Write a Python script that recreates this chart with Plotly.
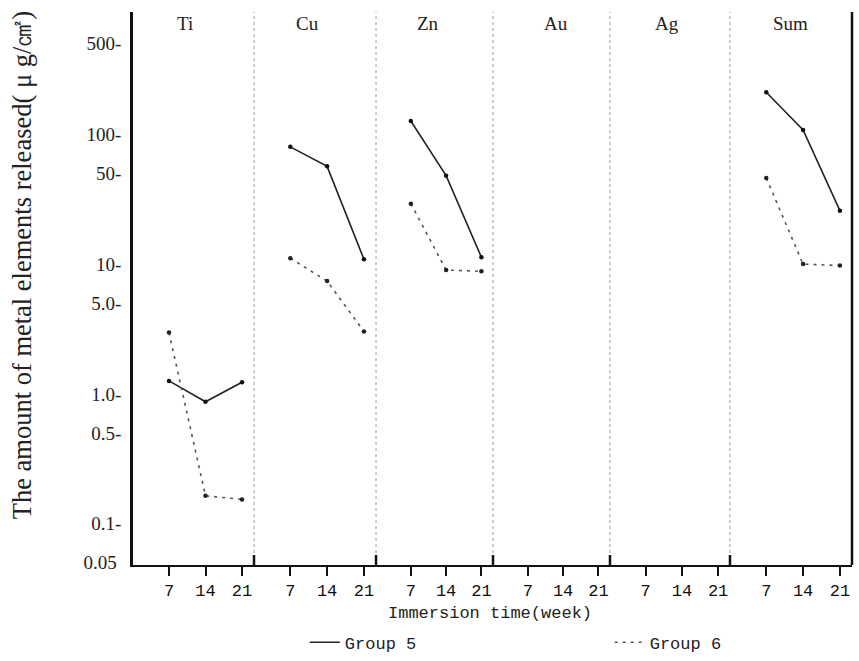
import plotly.graph_objects as go

# ---------------- data ----------------
weeks = [7, 14, 21]
week_labels = ["7", "14", "21"]
panels = ["Ti", "Cu", "Zn", "Au", "Ag", "Sum"]

ti_g5 = [1.26, 0.87, 1.23]
ti_g6 = [2.97, 0.164, 0.154]
cu_g5 = [80.0, 56.6, 10.9]
cu_g6 = [11.1, 7.4, 3.03]
zn_g5 = [126.6, 48.0, 11.3]
zn_g6 = [29.2, 9.0, 8.8]
au_g5 = []
au_g6 = []
ag_g5 = []
ag_g6 = []
sum_g5 = [211.0, 108.0, 25.8]
sum_g6 = [46.0, 10.0, 9.75]

y_tickvals = [0.05, 0.1, 0.5, 1, 5, 10, 50, 100, 500]
y_ticktext = ["0.05\u00a0", "0.1-", "0.5-", "1.0-", "5.0-", "10-", "50-", "100-", "500-"]
y_title = "The amount of metal elements released( \u03bc g/\u33a0)"
x_title = "Immersion time(week)"

series_g5 = [ti_g5, cu_g5, zn_g5, au_g5, ag_g5, sum_g5]
series_g6 = [ti_g6, cu_g6, zn_g6, au_g6, ag_g6, sum_g6]

# ---------------- layout constants ----------------
bounds = [0.0, 0.1683, 0.3380, 0.5007, 0.6634, 0.8303, 1.0]
label_x = [10.0, 10.3, 10.4, 12.6, 11.2, 11.6]
mono = "Liberation Mono"
serif = "Liberation Serif"

fig = go.Figure()

for i, name in enumerate(panels):
    xa = "x" if i == 0 else f"x{i+1}"
    g5 = series_g5[i]
    g6 = series_g6[i]
    if g5:
        fig.add_trace(go.Scatter(x=weeks[:len(g5)], y=g5, xaxis=xa, yaxis="y", mode="lines",
                                 line=dict(color="#222222", width=1.6),
                                 name="Group 5", legend="legend", showlegend=(i == 0)))
        fig.add_trace(go.Scatter(x=weeks[:len(g5)], y=g5, xaxis=xa, yaxis="y", mode="markers",
                                 marker=dict(color="#111111", size=4.5),
                                 showlegend=False, hoverinfo="skip"))
    if g6:
        fig.add_trace(go.Scatter(x=weeks[:len(g6)], y=g6, xaxis=xa, yaxis="y", mode="lines",
                                 line=dict(color="#555555", width=1.6, dash="3px,5px"),
                                 name="Group 6", legend="legend2", showlegend=(i == 0)))
        fig.add_trace(go.Scatter(x=weeks[:len(g6)], y=g6, xaxis=xa, yaxis="y", mode="markers",
                                 marker=dict(color="#222222", size=4.5),
                                 showlegend=False, hoverinfo="skip"))

legend_font = dict(family=mono, size=17, color="#222222")
layout = dict(
    width=859, height=661,
    margin=dict(l=133, r=7, t=12, b=96, autoexpand=False),
    plot_bgcolor="white", paper_bgcolor="white",
    showlegend=True,
    legend=dict(orientation="h", x=0.239, xanchor="left", y=-0.108, yanchor="top",
                font=legend_font, bgcolor="rgba(0,0,0,0)"),
    legend2=dict(orientation="h", x=0.663, xanchor="left", y=-0.108, yanchor="top",
                 font=legend_font, bgcolor="rgba(0,0,0,0)"),
)

for i in range(6):
    key = "xaxis" if i == 0 else f"xaxis{i+1}"
    layout[key] = dict(
        domain=[bounds[i], bounds[i + 1]], anchor="y", range=[0.1, 23.3],
        tickmode="array", tickvals=weeks, ticktext=week_labels,
        ticks="outside", ticklen=9, tickwidth=1.5, tickcolor="#111111",
        showline=True, linecolor="#111111", linewidth=2,
        showgrid=False, zeroline=False, automargin=False,
        tickfont=dict(family=mono, size=17, color="#111111"),
    )

layout["yaxis"] = dict(
    type="log", range=[-1.318, 2.942], anchor="x",
    tickmode="array", tickvals=y_tickvals, ticktext=y_ticktext,
    ticks="", showline=True, linecolor="#111111", linewidth=2.5,
    showgrid=False, zeroline=False, automargin=False,
    ticklabelstandoff=5,
    tickfont=dict(family=serif, size=19, color="#222222"),
)

fig.update_layout(**layout)

annotations = []
for i, name in enumerate(panels):
    xa = "x" if i == 0 else f"x{i+1}"
    annotations.append(dict(text=name, x=label_x[i], xref=xa, y=0.98, yref="paper",
                            showarrow=False, xanchor="center", yanchor="middle",
                            font=dict(family=serif, size=19, color="#222222")))
annotations.append(dict(text=x_title, x=0.4965, xref="paper", y=-0.088, yref="paper",
                        showarrow=False, xanchor="center", yanchor="middle",
                        font=dict(family=mono, size=17, color="#222222")))
annotations.append(dict(text=y_title, x=-0.1544, xref="paper", y=0.542, yref="paper",
                        showarrow=False, xanchor="center", yanchor="middle", textangle=-90,
                        font=dict(family=serif, size=26.5, color="#222222")))
fig.update_layout(annotations=annotations)

shapes = []
for b in bounds[1:-1]:
    shapes.append(dict(type="line", xref="paper", yref="paper", x0=b, x1=b, y0=0, y1=1,
                       line=dict(color="#9a9a9a", width=1, dash="dot")))
    shapes.append(dict(type="line", xref="paper", yref="paper", x0=b, x1=b, y0=0, y1=0.018,
                       line=dict(color="#111111", width=2.5)))
shapes.append(dict(type="line", xref="paper", yref="paper", x0=1, x1=1, y0=0, y1=1,
                   line=dict(color="#111111", width=2.5)))
fig.update_layout(shapes=shapes)

fig.write_html("out.html")
